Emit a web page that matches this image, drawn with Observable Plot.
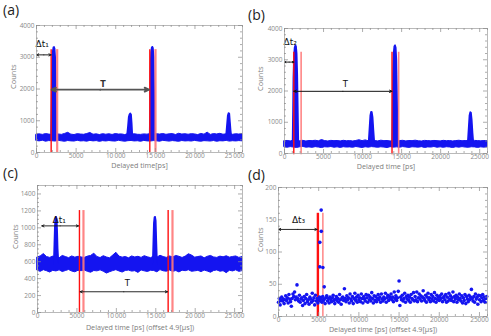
<!DOCTYPE html>
<html><head><meta charset="utf-8">
<script src="https://cdn.jsdelivr.net/npm/d3@7"></script>
<script src="https://cdn.jsdelivr.net/npm/@observablehq/plot@0.6"></script>
<style>
html,body{margin:0;padding:0;background:#fff;}
#fig{position:relative;width:491px;height:336px;overflow:hidden;font-family:"Open Sans",sans-serif;}
.panel{position:absolute;}
.lab{position:absolute;font-size:14px;line-height:1;color:#222;font-family:"Open Sans",sans-serif;}
</style></head><body><div id="fig"></div>
<script>
// ---------- tick labels ----------
const xTicks = [0, 5000, 10000, 15000, 20000, 25000];
const xLabelsSpaced = ["0", "5000", "10\u2009000", "15\u2009000", "20\u2009000", "25\u2009000"];
const xLabelsPlain = ["0", "5000", "10000", "15000", "20000", "25000"];
const yTicksAB = [0, 1000, 2000, 3000, 4000];
const yLabelsAB = ["0", "1000", "2000", "3000", "4000"];
const yTicksC = [0, 200, 400, 600, 800, 1000, 1200, 1400];
const yLabelsC = ["0", "200", "400", "600", "800", "1000", "1200", "1400"];
const yTicksD = [0, 50, 100, 150, 200];
const yLabelsD = ["0", "50", "100", "150", "200"];
const panelLetters = ["(a)", "(b)", "(c)", "(d)"];
const yTitle = "Counts";
const xTitles = ["Delayed time[ps]", "Delayed time [ps]", "Delayed time [ps] (offset 4.9[\u03bcs])", "Delayed time [ps] (offset 4.9[\u03bcs])"];

// ---------- panel (a) ----------
const aStep = 400;
const aLo = [365,350,372,340,360,355,345,368,352,338,362,350,345,370,348,355,342,366,350,360,335,358,347,362,350,344,371,352,340,357,363,348,355,338,366,350,345,360,352,340,368,355,343,360,350,337,362,348,355,345,366,350,340,358,352,345,362,338,355,350,367,343,356,348,360,352];
const aHi = [560,572,555,580,565,548,575,568,555,585,620,562,550,578,566,558,582,615,560,572,550,578,560,575,553,580,566,570,548,582,560,575,558,555,570,562,580,600,575,565,582,558,572,580,552,590,566,575,560,578,570,548,585,562,625,555,580,568,588,560,572,582,558,575,565,580];
const aPeak1 = [[1900,560],[1950,1400],[2000,2300],[2060,2900],[2130,3200],[2200,3300],[2280,3310],[2350,3260],[2420,3000],[2480,2300],[2540,1200],[2600,560]];
const aPeak2 = [[11500,560],[11600,800],[11700,1100],[11800,1190],[11900,1215],[12000,1180],[12080,900],[12150,560]];
const aPeak3 = [[14350,560],[14400,1500],[14450,2600],[14520,3150],[14600,3290],[14680,3315],[14760,3280],[14840,3000],[14900,2000],[14950,800],[15000,560]];
const aPeak4 = [[24000,560],[24100,850],[24200,1150],[24300,1230],[24400,1210],[24480,950],[24560,700],[24620,560]];
const aRedSolid = [1850, 14300];
const aRedLight = [2610, 15020];
const aRedTop = 3240;
const aDt = [0, 1850, 3075];
const aT = [1900, 14200, 1980];
const aDtLabel = ["\u0394t\u2081", 0, 3400];
const aTLabel = ["T", 8400, 2130];

// ---------- panel (b) ----------
const bStep = 400;
const bLo = [200,185,205,192,178,198,210,188,195,182,204,190,175,200,193,207,185,198,180,202,190,196,184,208,192,178,200,188,205,195,183,199,190,176,203,188,197,185,206,192,180,200,194,187,203,178,196,190,208,185,198,182,201,193,176,199,188,205,190,184,200,195,180,197,188,202];
const bHi = [395,402,388,410,398,392,405,385,400,396,408,390,430,398,386,404,395,400,388,406,392,398,385,402,425,396,420,390,404,398,388,410,395,400,386,402,392,398,406,388,400,395,410,392,385,403,398,390,402,396,388,405,394,400,386,398,408,392,400,395,388,403,397,390,400,395];
const bPeak1 = [[1100,400],[1150,1300],[1200,2400],[1280,3100],[1360,3380],[1450,3450],[1540,3420],[1620,3200],[1700,2500],[1770,1400],[1830,400]];
const bPeak2 = [[10850,400],[10950,800],[11050,1200],[11150,1320],[11250,1310],[11350,1150],[11450,750],[11550,400]];
const bPeak3 = [[13850,400],[13900,1300],[13960,2500],[14040,3200],[14130,3420],[14220,3450],[14310,3380],[14390,3000],[14460,2000],[14520,1000],[14580,400]];
const bPeak4 = [[23550,400],[23650,800],[23750,1200],[23850,1310],[23950,1290],[24050,1050],[24150,650],[24230,400]];
const bRedSolid = [1190, 13770];
const bRedLight = [2130, 14620];
const bRedTop = 3240;
const bDt = [0, 1190, 2925];
const bT = [1190, 13770, 1990];
const bDtLabel = ["\u0394t\u2082", 0, 3560];
const bTLabel = ["T", 7800, 2210];

// ---------- panel (c) ----------
const cStep = 400;
const cLo = [495,480,500,488,472,492,485,498,478,490,502,484,475,493,488,496,480,470,490,486,498,482,460,476,489,500,485,472,491,495,483,488,468,497,486,479,493,490,475,501,487,482,496,480,490,473,494,488,499,481,486,492,477,495,484,470,490,497,482,488,465,493,485,498,480,489];
const cHi = [650,662,690,655,645,660,652,640,668,655,642,662,648,658,650,645,660,668,695,655,643,665,650,640,672,705,660,648,656,640,662,650,658,645,665,652,642,660,648,670,655,645,662,650,668,658,644,660,688,672,648,655,662,640,658,668,650,645,660,652,664,648,656,662,645,655];
const cPeak1 = [[2150,650],[2200,800],[2260,1000],[2330,1110],[2420,1125],[2500,1100],[2560,950],[2620,750],[2680,650]];
const cPeak2 = [[14700,650],[14760,850],[14820,1050],[14900,1120],[14980,1125],[15060,1080],[15130,850],[15200,650]];
const cRedSolid = [5320, 16570];
const cRedLight = [5830, 17120];
const cRedTop = 1204;
const cDt = [545, 5200, 1023];
const cT = [5400, 16490, 245];
const cDtLabel = ["\u0394t\u2081", 1900, 1090];
const cTLabel = ["T", 11400, 340];

// ---------- panel (d) ----------
const dStep = 100;
const dCounts = [
22,28,18,25,30,24,27,20,26,32,
25,29,21,34,27,23,16,28,35,31,
38,26,30,49,28,24,33,22,27,29,
17,25,31,20,28,34,23,26,19,30,
27,22,36,25,29,18,33,24,28,21,
26,30,24,28,22,31,25,27,20,29,
32,24,28,21,30,26,23,29,33,25,
20,27,31,24,28,22,34,26,19,29,
30,25,43,28,23,32,26,29,21,35,
27,24,31,20,28,36,25,30,22,33,
26,29,23,35,28,21,31,27,24,34,
29,22,33,26,30,24,37,28,21,32,
25,31,23,28,34,26,30,22,35,27,
24,30,27,36,22,29,33,25,31,28,
35,26,30,23,38,28,32,25,29,39,
55,17,30,26,33,24,28,36,22,31,
27,33,25,30,22,34,28,26,37,24,
31,26,38,23,29,35,27,32,24,30,
40,28,25,33,22,30,36,26,29,23,
34,27,31,24,37,28,22,33,26,30,
25,32,28,35,23,29,31,26,34,22,
30,24,36,27,32,25,29,38,23,31,
27,33,22,30,26,35,28,24,32,21,
29,25,34,20,31,27,23,33,26,30,
42,28,24,31,22,35,27,30,19,33,
26,32,23,29,34,25,30,22,28,31];
const dPeakX = [5140, 5140, 5310, 5320, 5520, 5690];
const dPeakY = [115, 77, 165, 132, 76, 46];
const dRedSolid = [4900];
const dRedLight = [5520];
const dRedTop = 160;
const dDt = [0, 4800, 135];
const dDtLabel = ["\u0394t\u2083", 1670, 149];

// ---------- styles ----------
const BLUE = "#1414f0";
const RED = "#ff1010";
const PINK = "#ff7878";
const FRAME = "#a8a8a8";
const TICKC = "#8a8a8a";
const LABC = "#7c7c7c";

function bandMarks(lo, hi, step, peaks, base) {
  const n = Math.min(lo.length, hi.length);
  const rows = d3.range(n).map(i => ({x: i * step, lo: lo[i], hi: hi[i]}));
  const m = [Plot.areaY(rows, {x: "x", y1: "lo", y2: "hi", fill: BLUE, stroke: BLUE, strokeWidth: 1})];
  for (const pk of peaks) {
    m.push(Plot.areaY(pk, {x: d => d[0], y1: () => base, y2: d => d[1], fill: BLUE, stroke: BLUE, strokeWidth: 1.6, strokeLinejoin: "round"}));
  }
  return m;
}
function redMarks(solid, light, top, bottom, wSolid, wLight) {
  return [
    Plot.ruleX(solid, {x: d => d, y1: () => bottom, y2: () => top, stroke: RED, strokeWidth: wSolid}),
    Plot.ruleX(light, {x: d => d, y1: () => bottom, y2: () => top, stroke: PINK, strokeWidth: wLight, strokeOpacity: 0.9})
  ];
}
function dblArrow(spec, stroke, sw) {
  const [x1, x2, y] = spec;
  const mid = (x1 + x2) / 2;
  return Plot.arrow([[mid, x1], [mid, x2]], {x1: d => d[0], x2: d => d[1], y1: () => y, y2: () => y, stroke, strokeWidth: sw, headLength: 4, headAngle: 50});
}
function label(spec, opts) {
  return Plot.text([spec], {x: d => d[1], y: d => d[2], text: d => d[0], fill: "#111", fontFamily: "DejaVu Sans", ...opts});
}

function makePanel(p) {
  const innerW = p.width - p.ml - p.mr;
  const innerH = p.height - p.mt - p.mb;
  const xMinor = d3.range(0, 26001, 1000).filter(v => v % 5000 !== 0);
  const yMax = p.yDomain[1];
  const yMinor = d3.range(0, yMax + 0.1, p.yMinorStep).filter(v => !p.yTicks.includes(v));
  const MJ = 4, MN = 2;
  const tk = {stroke: TICKC, strokeWidth: 0.7};
  const marks = [
    ...p.data,
    Plot.frame({stroke: FRAME, strokeWidth: 0.8}),
    Plot.tickX(xTicks, {x: d => d, insetTop: innerH - MJ, ...tk}),
    Plot.tickX(xMinor, {x: d => d, insetTop: innerH - MN, ...tk}),
    Plot.tickX(xTicks, {x: d => d, insetBottom: innerH - MJ, ...tk}),
    Plot.tickX(xMinor, {x: d => d, insetBottom: innerH - MN, ...tk}),
    Plot.tickY(p.yTicks, {y: d => d, insetRight: innerW - MJ, ...tk}),
    Plot.tickY(yMinor, {y: d => d, insetRight: innerW - MN, ...tk}),
    Plot.tickY(p.yTicks, {y: d => d, insetLeft: innerW - MJ, ...tk}),
    Plot.tickY(yMinor, {y: d => d, insetLeft: innerW - MN, ...tk}),
    Plot.axisX(xTicks, {tickSize: 0, tickPadding: 1, label: null, fontSize: 6.5, color: TICKC, tickFormat: d => p.xLabels[xTicks.indexOf(d)]}),
    Plot.axisY(p.yTicks, {tickSize: 0, tickPadding: 2, label: null, fontSize: 6.5, color: TICKC, tickFormat: d => p.yLabels[p.yTicks.indexOf(d)]}),
    Plot.text([yTitle], {frameAnchor: "left", dx: p.yTitleDx, rotate: -90, text: d => d, fontSize: 7.5, fill: LABC}),
    Plot.text([p.xTitle], {frameAnchor: "bottom", dy: p.xTitleDy, text: d => d, fontSize: 7.2, fill: LABC})
  ];
  const svg = Plot.plot({
    width: p.width, height: p.height,
    marginLeft: p.ml, marginRight: p.mr, marginTop: p.mt, marginBottom: p.mb,
    x: {domain: [0, 26000]},
    y: {domain: p.yDomain},
    style: {fontFamily: "Open Sans, sans-serif", fontSize: "6.5px", background: "transparent", overflow: "visible", color: TICKC},
    marks
  });
  const wrap = document.createElement("div");
  wrap.className = "panel";
  wrap.style.left = p.left + "px";
  wrap.style.top = p.top + "px";
  wrap.appendChild(svg);
  document.getElementById("fig").appendChild(wrap);
}

// (a)
makePanel({
  left: 0, top: 0, width: 246, height: 170, ml: 36, mr: 4, mt: 25, mb: 18,
  yDomain: [0, 4000], yTicks: yTicksAB, yLabels: yLabelsAB, yMinorStep: 200,
  xLabels: xLabelsSpaced, xTitle: xTitles[0], xTitleDy: 15.5, yTitleDx: -23,
  data: [
    ...bandMarks(aLo, aHi, aStep, [aPeak1, aPeak2, aPeak3, aPeak4], 450),
    ...redMarks(aRedSolid, aRedLight, aRedTop, 0, 1.4, 2.2),
    dblArrow(aDt, "#222", 1),
    dblArrow(aT, "#555", 1.8),
    label(aDtLabel, {textAnchor: "start", dx: -1, fontSize: 9}),
    label(aTLabel, {fontSize: 8, fontWeight: "bold", fill: "#333"})
  ]
});
// (b)
makePanel({
  left: 245, top: 0, width: 246, height: 170, ml: 39, mr: 4, mt: 28, mb: 17,
  yDomain: [0, 4000], yTicks: yTicksAB, yLabels: yLabelsAB, yMinorStep: 200,
  xLabels: xLabelsPlain, xTitle: xTitles[1], xTitleDy: 15, yTitleDx: -24,
  data: [
    ...bandMarks(bLo, bHi, bStep, [bPeak1, bPeak2, bPeak3, bPeak4], 300),
    ...redMarks(bRedSolid, bRedLight, bRedTop, -40, 1.4, 1.6),
    dblArrow(bDt, "#111", 0.9),
    dblArrow(bT, "#111", 1),
    label(bDtLabel, {textAnchor: "start", dx: -1, fontSize: 9}),
    label(bTLabel, {fontSize: 8.5})
  ]
});
// (c)
makePanel({
  left: 0, top: 170, width: 246, height: 166, ml: 37, mr: 4, mt: 15, mb: 24,
  yDomain: [0, 1500], yTicks: yTicksC, yLabels: yLabelsC, yMinorStep: 50,
  xLabels: xLabelsSpaced, xTitle: xTitles[2], xTitleDy: 17, yTitleDx: -22,
  data: [
    ...bandMarks(cLo, cHi, cStep, [cPeak1, cPeak2], 570),
    ...redMarks(cRedSolid, cRedLight, cRedTop, 0, 1.4, 2.2),
    dblArrow(cDt, "#111", 0.9),
    dblArrow(cT, "#111", 0.9),
    label(cDtLabel, {textAnchor: "start", fontSize: 9}),
    label(cTLabel, {fontSize: 8.5})
  ]
});
// (d)
const dRows = dCounts.map((v, i) => ({x: i * dStep, y: v})).concat(dPeakX.map((x, i) => ({x, y: dPeakY[i]})));
makePanel({
  left: 245, top: 170, width: 246, height: 166, ml: 33, mr: 4, mt: 17, mb: 20,
  yDomain: [0, 200], yTicks: yTicksD, yLabels: yLabelsD, yMinorStep: 10,
  xLabels: xLabelsPlain, xTitle: xTitles[3], xTitleDy: 15.5, yTitleDx: -18,
  data: [
    ...redMarks(dRedSolid, dRedLight, dRedTop, 0, 2.4, 1.5),
    Plot.dot(dRows, {x: "x", y: "y", r: 1.8, fill: BLUE, stroke: "none"}),
    dblArrow(dDt, "#111", 0.9),
    label(dDtLabel, {textAnchor: "start", fontSize: 9})
  ]
});

// panel letters
const letterPos = [[3, 3], [248, 8], [3, 166], [248, 168]];
panelLetters.forEach((t, i) => {
  const el = document.createElement("div");
  el.className = "lab";
  el.style.left = letterPos[i][0] + "px";
  el.style.top = letterPos[i][1] + "px";
  el.textContent = t;
  document.getElementById("fig").appendChild(el);
});
</script>
</body></html>
